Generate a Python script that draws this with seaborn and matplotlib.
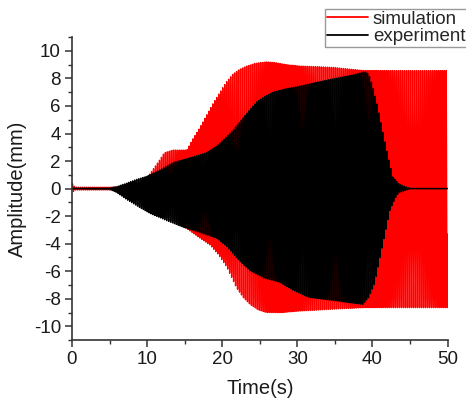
import numpy as np
import pandas as pd
import matplotlib
matplotlib.use("Agg")
import matplotlib.pyplot as plt
import seaborn as sns
from matplotlib.ticker import MultipleLocator
from matplotlib.lines import Line2D

# Envelope of the simulated response (time in s, amplitude in mm)
sim_time_up = [0.0, 0.4, 5.0, 7.0, 9.0, 10.0, 10.8, 11.7, 12.3, 13.5, 15.3, 16.1, 17.0, 17.9, 18.8, 19.7,
               20.5, 21.4, 22.3, 23.3, 24.5, 25.9, 27.0, 28.5, 30.3, 34.7, 38.3, 39.0, 50.0]
sim_upper = [0.4, 0.1, 0.1, 0.15, 0.4, 0.8, 1.4, 2.1, 2.6, 2.8, 2.8, 3.6, 4.4, 5.3, 6.2, 7.0,
             7.7, 8.3, 8.65, 8.9, 9.1, 9.2, 9.15, 9.0, 8.9, 8.8, 8.6, 8.57, 8.57]
sim_time_lo = [0.0, 0.4, 5.0, 7.0, 9.0, 10.0, 12.0, 13.5, 15.3, 16.8, 18.4, 19.5, 20.6, 21.3, 21.9,
               22.8, 23.7, 24.8, 25.9, 28.0, 30.0, 34.7, 39.0, 50.0]
sim_lower = [-0.3, -0.1, -0.1, -0.15, -0.4, -0.9, -1.8, -2.3, -2.9, -3.5, -4.1, -4.8, -5.7, -6.5, -7.2,
             -7.9, -8.4, -8.8, -9.0, -9.0, -8.9, -8.75, -8.64, -8.64]

# Envelope of the measured response
exp_time_up = [0.0, 5.0, 6.0, 7.3, 8.5, 10.0, 11.5, 13.5, 15.5, 17.9, 19.3, 20.6, 21.5, 22.3, 23.5, 24.6,
               25.7, 26.8, 28.5, 30.3, 32.5, 34.7, 37.0, 39.0, 39.5, 40.0, 40.7, 41.4, 42.0, 42.7, 43.5,
               44.3, 45.0, 50.0]
exp_upper = [0.03, 0.05, 0.15, 0.4, 0.65, 0.9, 1.3, 1.9, 2.2, 2.6, 3.1, 3.8, 4.3, 4.8, 5.6, 6.3,
             6.7, 7.0, 7.25, 7.45, 7.7, 7.96, 8.2, 8.5, 8.3, 7.5, 6.0, 4.1, 2.5, 0.85, 0.35,
             0.15, 0.02, 0.02]
exp_time_lo = [0.0, 5.0, 6.0, 7.3, 8.8, 10.4, 12.5, 14.8, 17.0, 19.3, 20.6, 21.9, 22.8, 23.7, 25.5, 27.7,
               29.5, 31.6, 35.0, 38.7, 39.5, 40.3, 41.4, 42.3, 43.0, 43.5, 45.0, 50.0]
exp_lower = [-0.03, -0.05, -0.3, -0.8, -1.3, -1.8, -2.3, -2.8, -3.2, -3.6, -4.2, -5.0, -5.5, -5.95, -6.5, -6.8,
             -7.4, -7.9, -8.15, -8.4, -7.9, -6.9, -4.0, -1.6, -0.7, -0.3, -0.02, -0.02]

# Excitation frequency of each trace (Hz)
sim_freq = 3.8
exp_freq = 3.87

series_names = ["simulation", "experiment"]
series_colors = ["red", "black"]


def trace(freq, t_up, up, t_lo, lo):
    t = np.arange(0.0, 50.0, 1.0 / (freq * 16))
    s = np.sin(2 * np.pi * freq * t)
    a_up = np.interp(t, t_up, up)
    a_lo = np.abs(np.interp(t, t_lo, lo))
    y = np.where(s >= 0, s * a_up, s * a_lo)
    return pd.DataFrame({"Time(s)": t, "Amplitude(mm)": y})


sim_df = trace(sim_freq, sim_time_up, sim_upper, sim_time_lo, sim_lower)
exp_df = trace(exp_freq, exp_time_up, exp_upper, exp_time_lo, exp_lower)

sns.set_theme(style="ticks")
plt.rcParams["font.family"] = ["Liberation Sans", "DejaVu Sans"]
plt.rcParams["axes.unicode_minus"] = False

fig = plt.figure(figsize=(4.66, 4.03), dpi=100)
ax = fig.add_axes([0.1545, 0.156, 0.806, 0.752])

sns.lineplot(data=sim_df, x="Time(s)", y="Amplitude(mm)", color=series_colors[0],
             linewidth=1.0, estimator=None, sort=False, ax=ax)
sns.lineplot(data=exp_df, x="Time(s)", y="Amplitude(mm)", color=series_colors[1],
             linewidth=1.0, estimator=None, sort=False, ax=ax)

ax.set_xlim(0, 50)
ax.set_ylim(-11, 11)
ax.xaxis.set_major_locator(MultipleLocator(10))
ax.xaxis.set_minor_locator(MultipleLocator(5))
ax.yaxis.set_major_locator(MultipleLocator(2))
ax.yaxis.set_minor_locator(MultipleLocator(1))
ax.tick_params(which="major", direction="out", length=5, width=1.1, labelsize=13.5,
               color="#333333", labelcolor="#1a1a1a", pad=3)
ax.tick_params(which="minor", direction="out", length=3, width=1.0, color="#333333")
for side in ("top", "right"):
    ax.spines[side].set_visible(False)
for side in ("left", "bottom"):
    ax.spines[side].set_linewidth(1.2)
    ax.spines[side].set_color("#333333")
ax.set_xlabel("Time(s)", fontsize=14.5, color="#1a1a1a", labelpad=8)
ax.set_ylabel("Amplitude(mm)", fontsize=14.5, color="#1a1a1a", labelpad=5)

handles = [Line2D([], [], color=c, linewidth=1.3) for c in series_colors]
leg = fig.legend(handles, series_names, loc="upper left",
                 bbox_to_anchor=(325 / 466, 1 - 9 / 403), fontsize=13.5,
                 frameon=True, fancybox=False, framealpha=1, edgecolor="#999999",
                 borderpad=0.1, labelspacing=0.0, handlelength=2.2,
                 handletextpad=0.25, borderaxespad=0)
leg.get_frame().set_linewidth(1.0)

fig.savefig("out.png", dpi=100)
